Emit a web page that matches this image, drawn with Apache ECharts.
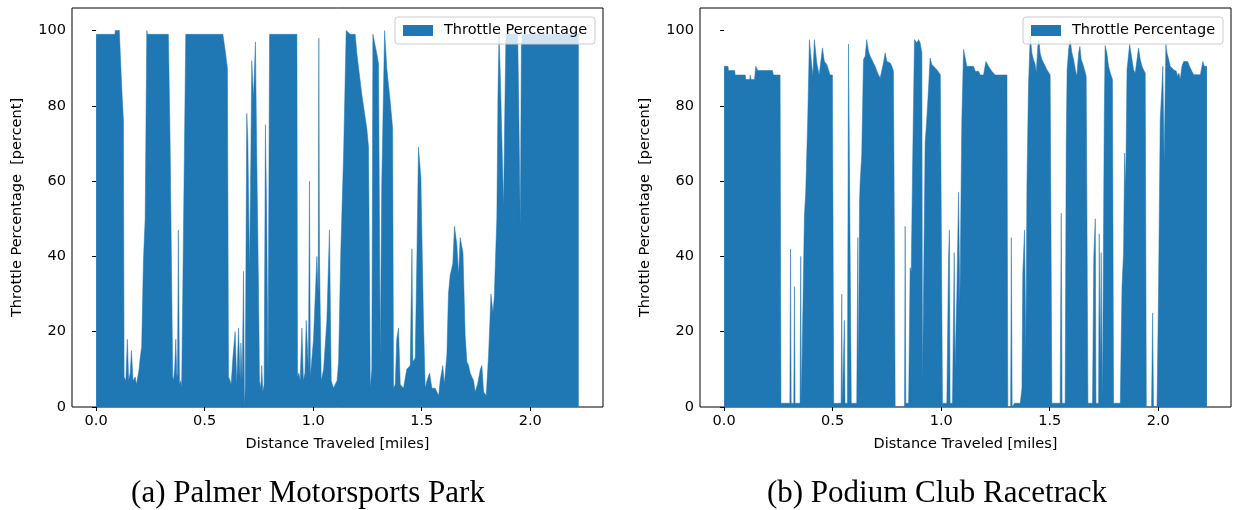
<!DOCTYPE html>
<html>
<head>
<meta charset="utf-8">
<script src="https://cdn.jsdelivr.net/npm/echarts@6/dist/echarts.min.js"></script>
<style>
  html, body { margin: 0; padding: 0; background: #fff; }
  #throttleCharts { width: 1236px; height: 510px; }
</style>
</head>
<body>
<div id="throttleCharts"></div>
<script>
// (a) Palmer Motorsports Park - distance [miles] / throttle [percent]
var palmerMiles = [
    0.000, 0.087, 0.088, 0.107, 0.118, 0.126, 0.129, 0.137, 0.144, 0.150,
    0.157, 0.163, 0.170, 0.180, 0.186, 0.192, 0.198, 0.203, 0.210, 0.218,
    0.226, 0.2335, 0.237, 0.333, 0.341, 0.353, 0.356, 0.362, 0.367, 0.372,
    0.375, 0.379, 0.384, 0.390, 0.394, 0.413, 0.584, 0.594, 0.605, 0.610,
    0.6175, 0.622, 0.630, 0.6405, 0.648, 0.656, 0.6636, 0.667, 0.673, 0.679,
    0.6836, 0.687, 0.694, 0.699, 0.7066, 0.713, 0.717, 0.725, 0.731, 0.734,
    0.740, 0.748, 0.7527, 0.759, 0.763, 0.768, 0.774, 0.780, 0.786, 0.792,
    0.799, 0.925, 0.928, 0.934, 0.940, 0.948, 0.955, 0.962, 0.968, 0.978,
    0.983, 0.987, 0.990, 1.0015, 1.017, 1.023, 1.026, 1.029, 1.037, 1.048,
    1.063, 1.075, 1.083, 1.094, 1.101, 1.110, 1.117, 1.127, 1.140, 1.152,
    1.1705, 1.1935, 1.201, 1.224, 1.247, 1.255, 1.263, 1.270, 1.275, 1.296,
    1.301, 1.309, 1.316, 1.329, 1.339, 1.355, 1.366, 1.370, 1.378, 1.385,
    1.393, 1.401, 1.416, 1.431, 1.447, 1.455, 1.459, 1.470, 1.478, 1.485,
    1.496, 1.501, 1.508, 1.516, 1.524, 1.536, 1.547, 1.562, 1.578, 1.585,
    1.597, 1.604, 1.616, 1.623, 1.631, 1.643, 1.651, 1.662, 1.670, 1.677,
    1.690, 1.700, 1.708, 1.716, 1.723, 1.739, 1.746, 1.757, 1.770, 1.777,
    1.785, 1.797, 1.808, 1.819, 1.828, 1.834, 1.843, 1.846, 1.851, 1.856,
    1.862, 1.877, 1.882, 1.888, 1.942, 1.946, 1.954, 1.959, 1.965, 2.223
];
var palmerThrottle = [
    99, 99, 100, 100, 85, 76, 8, 7, 18, 7,
    9, 15, 7, 8, 6, 6, 10, 13, 16, 39,
    50, 100, 99, 99, 70, 8, 7, 10, 18, 8,
    9, 47, 6, 7, 5, 99, 99, 95, 90, 8,
    7, 6, 13, 20, 6, 21, 7, 17, 7, 36,
    0, 5, 78, 71, 36, 67, 92, 82, 82, 97,
    67, 32, 7, 5, 11, 4, 6, 75, 50, 8,
    99, 99, 8, 9, 7, 21, 7, 9, 23, 10,
    60, 8, 8, 18, 40, 30, 98, 40, 7, 10,
    23, 47, 7, 5, 6, 7, 12, 41, 67, 100,
    99, 99, 94, 83, 74, 69, 5, 10, 99, 93,
    91, 13, 60, 100, 90, 81, 74, 5, 6, 18,
    21, 6, 5, 10, 11, 42, 12, 13, 41, 69,
    61, 45, 23, 5, 7, 9, 5, 5, 3, 7,
    11, 6, 14, 30, 35, 38, 48, 43, 35, 45,
    41, 19, 12, 11, 9, 7, 4, 6, 10, 11,
    4, 3, 14, 30, 25, 29, 45, 50, 82, 99,
    88, 53, 76, 99, 99, 84, 48, 96, 99, 99
];

// (b) Podium Club Racetrack
var podiumMiles = [
    0.000, 0.018, 0.020, 0.049, 0.051, 0.098, 0.100, 0.118, 0.120, 0.122,
    0.124, 0.140, 0.146, 0.153, 0.155, 0.223, 0.227, 0.258, 0.262, 0.303,
    0.306, 0.309, 0.321, 0.324, 0.327, 0.350, 0.353, 0.356, 0.362, 0.370,
    0.376, 0.385, 0.393, 0.404, 0.409, 0.416, 0.427, 0.438, 0.444, 0.453,
    0.462, 0.473, 0.481, 0.488, 0.499, 0.505, 0.539, 0.542, 0.545, 0.551,
    0.554, 0.557, 0.568, 0.573, 0.582, 0.586, 0.611, 0.616, 0.619, 0.624,
    0.627, 0.634, 0.642, 0.650, 0.657, 0.665, 0.673, 0.680, 0.688, 0.696,
    0.704, 0.711, 0.719, 0.727, 0.734, 0.742, 0.750, 0.757, 0.765, 0.773,
    0.780, 0.785, 0.788, 0.831, 0.834, 0.837, 0.850, 0.857, 0.862, 0.869,
    0.877, 0.888, 0.896, 0.903, 0.911, 0.914, 0.923, 0.926, 0.933, 0.942,
    0.949, 0.957, 0.965, 0.980, 0.996, 1.003, 1.006, 1.026, 1.034, 1.038,
    1.041, 1.052, 1.060, 1.064, 1.072, 1.080, 1.086, 1.095, 1.103, 1.111,
    1.118, 1.149, 1.157, 1.172, 1.180, 1.195, 1.206, 1.218, 1.233, 1.249,
    1.303, 1.307, 1.320, 1.323, 1.327, 1.338, 1.364, 1.372, 1.376, 1.384,
    1.390, 1.395, 1.402, 1.410, 1.418, 1.425, 1.433, 1.438, 1.445, 1.450,
    1.456, 1.464, 1.472, 1.487, 1.502, 1.510, 1.548, 1.553, 1.557, 1.571,
    1.576, 1.580, 1.587, 1.594, 1.602, 1.610, 1.618, 1.625, 1.633, 1.639,
    1.645, 1.651, 1.660, 1.668, 1.676, 1.697, 1.703, 1.710, 1.713, 1.725,
    1.728, 1.733, 1.737, 1.743, 1.751, 1.755, 1.763, 1.771, 1.779, 1.789,
    1.794, 1.825, 1.833, 1.840, 1.845, 1.850, 1.856, 1.868, 1.879, 1.886,
    1.894, 1.902, 1.909, 1.917, 1.925, 1.932, 1.940, 1.945, 1.969, 1.974,
    1.978, 1.994, 2.001, 2.009, 2.017, 2.021, 2.027, 2.035, 2.040, 2.048,
    2.055, 2.071, 2.083, 2.089, 2.095, 2.101, 2.109, 2.117, 2.135, 2.144,
    2.155, 2.163, 2.194, 2.205, 2.212, 2.224
];
var podiumThrottle = [
    90.5, 90.5, 89.4, 89.4, 88.2, 88.2, 87, 87, 88.2, 88.2,
    87, 87, 90.5, 90.5, 89.4, 89.4, 88.2, 88.2, 1, 1,
    42, 1, 1, 32, 1, 1, 40, 1, 1, 51,
    57, 76, 97.6, 90.5, 88, 97.6, 91.4, 88.2, 88.2, 95.4,
    91.8, 91, 89.6, 88.2, 88.2, 1, 1, 30, 1, 1,
    23, 1, 1, 96.4, 96.4, 1, 1, 45, 8, 55,
    60, 67, 92.3, 93.2, 97.6, 94.5, 93.2, 92.7, 91.4, 90.5,
    89.2, 88.3, 87.4, 87, 91.4, 94.1, 91.8, 91.8, 91.4, 90.5,
    89.2, 40, 0, 0, 48, 1, 1, 37, 36, 67,
    97.6, 96.7, 97.6, 96.7, 94.1, 6, 6, 70, 76, 85,
    92.7, 91, 90.5, 89.6, 88.3, 87.9, 1, 1, 40, 47,
    1, 1, 41, 10, 30, 57, 27, 76, 95, 92.7,
    90.5, 90.5, 89.2, 89.2, 88.2, 88.2, 91.8, 90.5, 89.2, 88.2,
    88.2, 0, 0, 45, 0, 1, 1, 5, 35.5, 47,
    14, 59, 85, 98.5, 94, 92.3, 91, 88.7, 95.8, 97.6,
    94, 92.3, 91.4, 89.6, 88.2, 1, 1, 51.5, 1, 1,
    70, 89.6, 94.9, 97.6, 94.1, 92.3, 89.6, 87.9, 94, 95.8,
    92.3, 91.4, 89.6, 87.9, 1, 1, 40, 50, 1, 1,
    46, 10, 41, 1, 76, 96, 94.1, 90.5, 88.7, 87,
    1, 1, 32, 41, 67.5, 58.6, 89.6, 96.3, 92.3, 89.6,
    88.7, 92.3, 95.4, 92.3, 90.5, 89.6, 88.7, 0, 0, 25,
    0, 0, 30, 76.3, 85.2, 90.5, 65, 96.3, 94.1, 92.3,
    90.5, 89.6, 89.2, 87.9, 88.7, 87, 90.5, 91.8, 91.8, 90.5,
    89.2, 88.3, 88.3, 91.8, 90.5, 90.5
];

var xTicks = [0, 0.5, 1.0, 1.5, 2.0];
var yTicks = [0, 20, 40, 60, 80, 100];

var seriesName = 'Throttle Percentage';
var blue = '#1f77b4';
var font = 'DejaVu Sans';
var fontSize = 14.5;

function toPairs(xs, ys) {
    var out = [];
    for (var i = 0; i < xs.length; i++) {
        out.push([xs[i], ys[i]]);
    }
    return out;
}

function makeXAxis(idx) {
    return {
        type: 'value',
        gridIndex: idx,
        min: -0.111,
        max: 2.335,
        name: 'Distance Traveled [miles]',
        nameLocation: 'middle',
        nameGap: 30,
        nameTextStyle: { fontFamily: font, fontSize: fontSize, color: '#000' },
        axisLine: { show: false },
        splitLine: { show: false },
        axisTick: { show: true, customValues: xTicks, length: 4, lineStyle: { color: '#000', width: 1 } },
        axisLabel: {
            customValues: xTicks,
            fontFamily: font, fontSize: fontSize, color: '#000', margin: 7,
            formatter: function (v) { return v.toFixed(1); }
        }
    };
}

function makeYAxis(idx) {
    return {
        type: 'value',
        gridIndex: idx,
        min: 0,
        max: 106,
        name: 'Throttle Percentage  [percent]',
        nameLocation: 'middle',
        nameGap: 47,
        nameTextStyle: { fontFamily: font, fontSize: fontSize, color: '#000' },
        axisLine: { show: false },
        splitLine: { show: false },
        axisTick: { show: true, customValues: yTicks, length: 4, lineStyle: { color: '#000', width: 1 } },
        axisLabel: { customValues: yTicks, fontFamily: font, fontSize: fontSize, color: '#000', margin: 6 }
    };
}

function makeLegend(left) {
    return {
        data: [seriesName],
        left: left,
        top: 17,
        orient: 'horizontal',
        icon: 'rect',
        itemWidth: 30,
        itemHeight: 11,
        padding: [6, 8, 6, 8],
        backgroundColor: 'rgba(255,255,255,0.8)',
        borderColor: '#cccccc',
        borderWidth: 1,
        borderRadius: 3,
        selectedMode: false,
        textStyle: { fontFamily: font, fontSize: fontSize, color: '#000', padding: [0, 0, 0, 6] }
    };
}

function makeSeries(idx, xs, ys) {
    return {
        name: seriesName,
        type: 'line',
        xAxisIndex: idx,
        yAxisIndex: idx,
        data: toPairs(xs, ys),
        showSymbol: false,
        silent: true,
        animation: false,
        color: blue,
        lineStyle: { width: 0.5, color: blue },
        areaStyle: { color: blue, opacity: 1 }
    };
}

function throttleCharts() {
    var myChart = echarts.init(document.getElementById('throttleCharts'));

    var option = {
        animation: false,
        grid: [
            { left: 72, top: 8, width: 531, height: 399, show: true, borderColor: '#000', borderWidth: 1, backgroundColor: 'transparent' },
            { left: 700, top: 8, width: 531, height: 399, show: true, borderColor: '#000', borderWidth: 1, backgroundColor: 'transparent' }
        ],
        xAxis: [makeXAxis(0), makeXAxis(1)],
        yAxis: [makeYAxis(0), makeYAxis(1)],
        legend: [makeLegend(395), makeLegend(1023)],
        series: [
            makeSeries(0, palmerMiles, palmerThrottle),
            makeSeries(1, podiumMiles, podiumThrottle)
        ],
        graphic: [
            {
                type: 'text', x: 308, y: 494,
                style: { text: '(a) Palmer Motorsports Park', textAlign: 'center', textVerticalAlign: 'middle',
                         fontFamily: 'Liberation Serif', fontSize: 31, fill: '#000' }
            },
            {
                type: 'text', x: 937, y: 494,
                style: { text: '(b) Podium Club Racetrack', textAlign: 'center', textVerticalAlign: 'middle',
                         fontFamily: 'Liberation Serif', fontSize: 31, fill: '#000' }
            }
        ]
    };

    myChart.setOption(option);
}

throttleCharts();
</script>
</body>
</html>
